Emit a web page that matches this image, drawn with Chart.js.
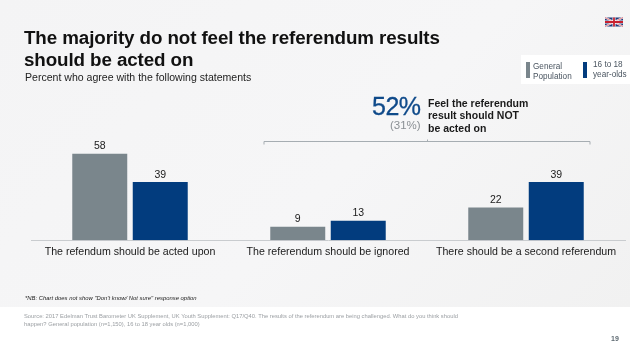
<!DOCTYPE html>
<html>
<head>
<meta charset="utf-8">
<script src="https://cdn.jsdelivr.net/npm/chart.js@4/dist/chart.umd.min.js"></script>
<style>
  html, body { margin: 0; padding: 0; background: #fff; }
  #slide { position: relative; width: 630px; height: 354px; overflow: hidden; font-family: "Liberation Sans", Arial, sans-serif; }
  #panel { position: absolute; left: 0; top: 0; width: 630px; height: 307px; background: linear-gradient(135deg, #f4f4f5 0%, #f6f6f7 55%, #f1f1f1 100%); }
  #chartBox { position: absolute; left: 0; top: 0; width: 630px; height: 354px; }
  .t { position: absolute; white-space: nowrap; }
  #title { left: 24px; top: 27px; font-size: 18.8px; line-height: 22px; font-weight: bold; color: #111; letter-spacing: -0.1px; }
  #sub { left: 25px; top: 71px; font-size: 10.55px; color: #222; }
  #legendBox { position: absolute; left: 521px; top: 55px; width: 109px; height: 29px; background: #fff; }
  .swatch { position: absolute; top: 62px; width: 4px; height: 16px; }
  .leg { font-size: 8.2px; line-height: 9.5px; color: #4a5560; }
  #big { left: 372px; top: 92px; font-size: 25px; color: #0f4a8a; letter-spacing: -0.5px; -webkit-text-stroke: 0.3px #0f4a8a; }
  #old { left: 390px; top: 119px; font-size: 11.5px; color: #8a8f94; }
  #feel { left: 428px; top: 96.5px; font-size: 10.5px; line-height: 12.8px; font-weight: bold; color: #1a1a1a; }
  #nb { left: 25px; top: 295px; font-size: 5.9px; font-style: italic; color: #222; }
  #source { left: 24px; top: 313px; font-size: 5.8px; line-height: 7.6px; color: #9a9ea2; }
  #page { left: 611px; top: 335px; font-size: 7px; font-weight: bold; color: #5e6a72; }
  #flag { position: absolute; left: 605px; top: 17px; }
</style>
</head>
<body>
<div id="slide">
  <div id="panel"></div>
  <div id="legendBox"></div>
  <div id="chartBox"><canvas id="chart"></canvas></div>

  <div class="t" id="title">The majority do not feel the referendum results<br>should be acted on</div>
  <div class="t" id="sub">Percent who agree with the following statements</div>

  <svg id="flag" width="18" height="10" viewBox="0 0 60 30">
    <rect width="60" height="30" fill="#1f3a7a"/>
    <path d="M0 0L60 30M60 0L0 30" stroke="#fff" stroke-width="6"/>
    <path d="M0 0L60 30M60 0L0 30" stroke="#c8202f" stroke-width="2"/>
    <path d="M30 0V30M0 15H60" stroke="#fff" stroke-width="10"/>
    <path d="M30 0V30M0 15H60" stroke="#c8202f" stroke-width="6"/>
  </svg>

  <div class="swatch" style="left:526px;background:#7a868c"></div>
  <div class="t leg" style="left:533px;top:62px">General<br>Population</div>
  <div class="swatch" style="left:583px;background:#023c7e"></div>
  <div class="t leg" style="left:593px;top:60px">16 to 18<br>year-olds</div>

  <div class="t" id="big">52%</div>
  <div class="t" id="old">(31%)</div>
  <div class="t" id="feel">Feel the referendum<br>result should NOT<br>be acted on</div>

  <div class="t" id="nb">*NB: Chart does not show "Don't know/ Not sure" response option</div>
  <div class="t" id="source">Source: 2017 Edelman Trust Barometer UK Supplement, UK Youth Supplement: Q17/Q40. The results of the referendum are being challenged. What do you think should<br>happen? General population (n=1,150), 16 to 18 year olds (n=1,000)</div>
  <div class="t" id="page">19</div>
</div>

<script>
const categories = ['The refendum should be acted upon', 'The referendum should be ignored', 'There should be a second referendum'];
const generalPopulation = [58, 9, 22];
const youth = [39, 13, 39];
const bracketFrom = 1; // bracket spans the last two groups

// value labels on top of the bars
const barLabels = {
  id: 'barLabels',
  afterDatasetsDraw(chart) {
    const { ctx } = chart;
    ctx.save();
    ctx.font = '10.5px "Liberation Sans"';
    ctx.fillStyle = '#1a1a1a';
    ctx.textAlign = 'center';
    ctx.textBaseline = 'bottom';
    chart.data.datasets.forEach((ds, i) => {
      chart.getDatasetMeta(i).data.forEach((bar, j) => {
        ctx.fillText(ds.data[j], bar.x, bar.y - 2);
      });
    });
    ctx.restore();
  }
};

// bracket over the groups that add up to the 52%
const bracket = {
  id: 'bracket',
  afterDraw(chart) {
    const { ctx, chartArea: { left, right } } = chart;
    const step = (right - left) / categories.length;
    const x0 = left + step * bracketFrom + 35;
    const x1 = right - 35;
    const y = 141.5;
    ctx.save();
    ctx.strokeStyle = '#a6adb2';
    ctx.lineWidth = 1;
    ctx.beginPath();
    ctx.moveTo(x0, y + 3);
    ctx.lineTo(x0, y);
    ctx.lineTo(x1, y);
    ctx.lineTo(x1, y + 3);
    ctx.moveTo(427.5, y);
    ctx.lineTo(427.5, y - 2);
    ctx.stroke();
    ctx.restore();
  }
};

new Chart(document.getElementById('chart').getContext('2d'), {
  type: 'bar',
  data: {
    labels: categories,
    datasets: [
      { label: 'General Population', data: generalPopulation, backgroundColor: '#7a868c' },
      { label: '16 to 18 year-olds', data: youth, backgroundColor: '#023c7e' }
    ]
  },
  options: {
    responsive: true,
    maintainAspectRatio: false,
    animation: false,
    layout: { padding: { left: 31, right: 5, top: 91, bottom: 91 } },
    categoryPercentage: 0.611,
    barPercentage: 0.909,
    scales: {
      x: {
        grid: { display: false, drawTicks: false },
        border: { color: '#c9cccf', width: 1 },
        ticks: {
          color: '#1a1a1a',
          font: { size: 10.64, family: 'Liberation Sans' },
          maxRotation: 0,
          padding: 5
        }
      },
      y: { display: false, min: 0, max: 100 }
    },
    plugins: {
      legend: { display: false },
      tooltip: { enabled: false }
    }
  },
  plugins: [barLabels, bracket]
});
</script>
</body>
</html>
